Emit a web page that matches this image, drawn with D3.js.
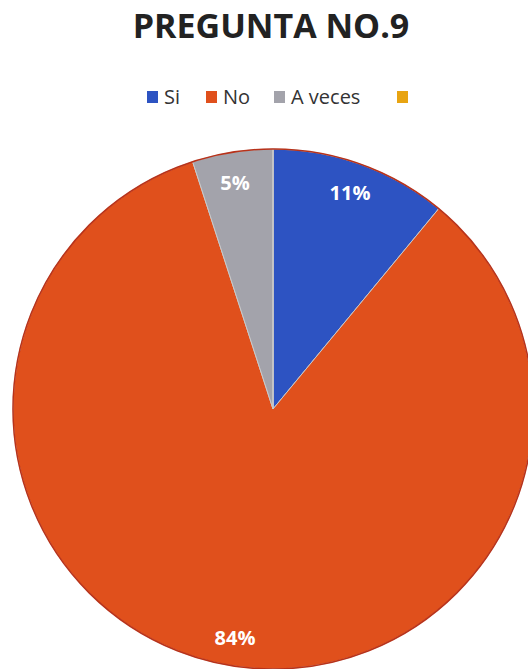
<!DOCTYPE html>
<html><head><meta charset="utf-8">
<script src="https://cdn.jsdelivr.net/npm/d3@7"></script>
<style>body{margin:0;background:#fff}svg{display:block}</style>
</head><body>
<script>
const categories = ["Si", "No", "A veces", ""];
const values = [11, 84, 5, 0];
const labels = ["11%", "84%", "5%", ""];
const colors = ["#2d53c2", "#e0501c", "#a3a3ab", "#e8a412"];

const W = 528, H = 669;
const svg = d3.select("body").append("svg").attr("width", W).attr("height", H);

svg.append("text").attr("x", 271).attr("y", 38).attr("text-anchor", "middle")
  .attr("font-family", "Open Sans").attr("font-weight", 700).attr("font-size", 34)
  .attr("fill", "#222").text("PREGUNTA NO.9");

const legX = [147, 206, 274, 397];
const leg = svg.append("g");
categories.forEach((c, i) => {
  leg.append("rect").attr("x", legX[i]).attr("y", 91).attr("width", 11).attr("height", 12).attr("fill", colors[i]);
  leg.append("text").attr("x", legX[i] + 17).attr("y", 104).attr("font-family", "Open Sans")
    .attr("font-size", 20).attr("fill", "#333").text(c);
});

const cx = 273, cy = 409, R = 260;
const pie = d3.pie().sort(null).value(d => d)(values);
const arc = d3.arc().innerRadius(0).outerRadius(R);
const g = svg.append("g").attr("transform", `translate(${cx},${cy})`);
g.selectAll("path").data(pie).enter().append("path")
  .attr("d", arc).attr("fill", (d, i) => colors[i])
  .attr("stroke", "#c9c9c9").attr("stroke-width", 1);
g.append("circle").attr("r", R).attr("fill", "none").attr("stroke", "#b8321a").attr("stroke-width", 1.5);

const labPos = [[77, -214], [-38, 231], [-38, -224]];
g.selectAll("text.lab").data(pie.slice(0, 3)).enter().append("text")
  .attr("x", (d, i) => labPos[i][0]).attr("y", (d, i) => labPos[i][1])
  .attr("text-anchor", "middle").attr("dominant-baseline", "middle")
  .attr("font-family", "Open Sans").attr("font-weight", 700).attr("font-size", 20)
  .attr("fill", "#fff").text((d, i) => labels[i]);
</script>
</body></html>
